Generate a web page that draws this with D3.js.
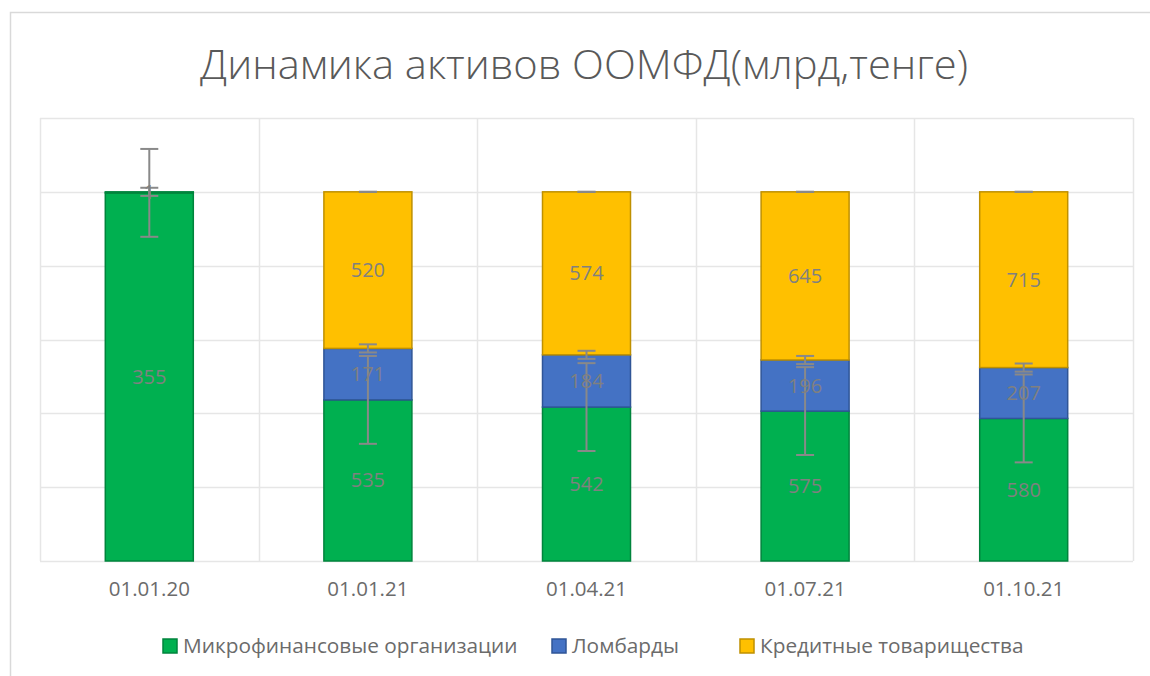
<!DOCTYPE html>
<html>
<head>
<meta charset="utf-8">
<title>Динамика активов ООМФД</title>
<script src="https://d3js.org/d3.v7.min.js"></script>
<style>
  body {margin: 0; background: #fff; font-family: "Open Sans", sans-serif;}
  svg {display: block;}
</style>
</head>
<body>
<script>
// chart values
const dates = ["01.01.20", "01.01.21", "01.04.21", "01.07.21", "01.10.21"];
const seriesNames = ["Микрофинансовые организации", "Ломбарды", "Кредитные товарищества"];
const mfo = [355, 535, 542, 575, 580];
const lombard = [1, 171, 184, 196, 207];
const credit = [0, 520, 574, 645, 715];
// error bar amounts, percentage points of the 100% scale
const errAmounts = [11.9, 1.1, 0];
const yTicks = [0, 20, 40, 60, 80, 100, 120];

const width = 1150, height = 676;
const margin = {left: 40, right: 17, top: 118, bottom: 115};

const fills = ["#00B050", "#4472C4", "#FFC000"];
const strokes = ["#00843C", "#2F5597", "#BF9000"];
const keys = ["s0", "s1", "s2"];

const svg = d3.select("body").append("svg")
  .attr("width", width)
  .attr("height", height);

// chart area frame
svg.append("rect")
  .attr("x", 10.5).attr("y", 12.5)
  .attr("width", width + 20).attr("height", height + 20)
  .attr("fill", "#fff").attr("stroke", "#d9d9d9").attr("stroke-width", 1.5);

const table = dates.map((d, i) => ({date: d, s0: mfo[i], s1: lombard[i], s2: credit[i]}));
const stack = d3.stack().keys(keys).offset(d3.stackOffsetExpand);
const layers = stack(table);

const x = d3.scaleBand().domain(dates)
  .range([margin.left, width - margin.right]).paddingInner(0).paddingOuter(0);
const y = d3.scaleLinear().domain([0, 120]).range([height - margin.bottom, margin.top]);
const barW = 88;

// gridlines
svg.append("g").selectAll("line.h").data(yTicks).join("line")
  .attr("x1", margin.left).attr("x2", width - margin.right)
  .attr("y1", d => Math.round(y(d)) + 0.5).attr("y2", d => Math.round(y(d)) + 0.5)
  .attr("stroke", "#e6e6e6").attr("stroke-width", 1.5);

const vEdges = dates.map(d => x(d)).concat([x(dates[dates.length - 1]) + x.bandwidth()]);
svg.append("g").selectAll("line.v").data(vEdges).join("line")
  .attr("x1", d => Math.round(d) + 0.5).attr("x2", d => Math.round(d) + 0.5)
  .attr("y1", y(120)).attr("y2", y(0))
  .attr("stroke", "#e6e6e6").attr("stroke-width", 1.5);

// bars
layers.forEach((layer, si) => {
  svg.append("g").selectAll("rect").data(layer).join("rect")
    .attr("x", d => x(d.data.date) + x.bandwidth() / 2 - barW / 2)
    .attr("y", d => y(d[1] * 100))
    .attr("width", barW)
    .attr("height", d => Math.max(0, y(d[0] * 100) - y(d[1] * 100)))
    .attr("fill", fills[si])
    .attr("stroke", d => (si === 1 && d.data.s1 < 5) ? strokes[0] : strokes[si])
    .attr("stroke-width", 1.5);
});

// error bars at the top of each segment
layers.forEach((layer, si) => {
  const e = errAmounts[si];
  const g = svg.append("g").attr("stroke", "#898989").attr("stroke-width", 2);
  layer.forEach(d => {
    if (d.data[keys[si]] === 0) return;
    const cx = x(d.data.date) + x.bandwidth() / 2;
    const top = d[1] * 100;
    g.append("line").attr("x1", cx).attr("x2", cx)
      .attr("y1", y(top + e)).attr("y2", y(top - e));
    [top + e, top - e].forEach(v => {
      g.append("line").attr("x1", cx - 9).attr("x2", cx + 9)
        .attr("y1", y(v)).attr("y2", y(v));
    });
  });
});

// data labels
layers.forEach((layer, si) => {
  svg.append("g").selectAll("text").data(layer.filter(d => d.data[keys[si]] > 0)).join("text")
    .attr("x", d => x(d.data.date) + x.bandwidth() / 2)
    .attr("y", d => (y(d[0] * 100) + y(d[1] * 100)) / 2)
    .attr("dy", "0.35em")
    .attr("text-anchor", "middle")
    .attr("font-size", 20)
    .attr("fill", "#808080")
    .text(d => d.data[keys[si]]);
});

// category axis labels
const xAxis = d3.axisBottom(x).tickSize(0).tickPadding(20);
const gx = svg.append("g")
  .attr("transform", `translate(0, ${y(0)})`)
  .call(xAxis);
gx.select(".domain").remove();
gx.selectAll("text")
  .attr("font-family", "Open Sans, sans-serif")
  .attr("font-size", 20.5)
  .attr("fill", "#6b6b6b");

// title
svg.append("text")
  .attr("x", 584).attr("y", 79)
  .attr("text-anchor", "middle")
  .attr("font-size", 40)
  .attr("font-weight", 300)
  .attr("fill", "#595959")
  .attr("textLength", 768)
  .attr("lengthAdjust", "spacingAndGlyphs")
  .text("Динамика активов ООМФД(млрд,тенге)");

// legend
const legendX = [163, 552, 740];
const legend = svg.append("g");
seriesNames.forEach((name, i) => {
  legend.append("rect")
    .attr("x", legendX[i]).attr("y", 639)
    .attr("width", 14).attr("height", 14)
    .attr("fill", fills[i]).attr("stroke", strokes[i]).attr("stroke-width", 1.5);
  legend.append("text")
    .attr("x", legendX[i] + 20).attr("y", 653)
    .attr("font-size", 20.8)
    .attr("fill", "#6b6b6b")
    .text(name);
});
</script>
</body>
</html>
